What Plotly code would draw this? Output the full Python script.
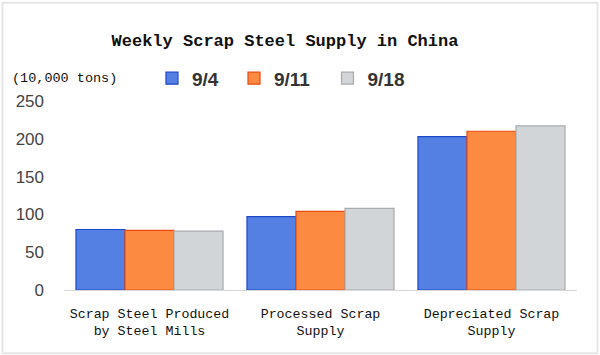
import plotly.graph_objects as go

categories = ["Scrap Steel Produced<br>by Steel Mills", "Processed Scrap<br>Supply", "Depreciated Scrap<br>Supply"]
series_names = ["9/4", "9/11", "9/18"]
values_94 = [80, 97, 203]
values_911 = [79, 104, 210]
values_918 = [78, 108, 217]
tick_vals = [0, 50, 100, 150, 200, 250]

fills = ["#5580e3", "#fc8a40", "#d2d5d8"]
lines = ["#1d48c8", "#ea4a12", "#a9abad"]
legend_ids = ["legend", "legend2", "legend3"]
legend_x = [0.1715, 0.3314, 0.5136]

fig = go.Figure()
for name, vals, fc, lc, lg in zip(series_names, [values_94, values_911, values_918], fills, lines, legend_ids):
    fig.add_trace(go.Bar(x=categories, y=vals, name=name, legend=lg,
                         marker=dict(color=fc, line=dict(color=lc, width=1.2))))

mono = "Liberation Mono, DejaVu Sans Mono, monospace"
legend_font = dict(family="Liberation Sans, Arial, sans-serif", size=19, color="#333", weight="bold")
legend_style = {}
for lg, lx in zip(legend_ids, legend_x):
    legend_style[lg] = dict(orientation="h", x=lx, y=1.12, xanchor="left", yanchor="middle",
                            font=legend_font, itemwidth=30, bgcolor="rgba(0,0,0,0)")

fig.update_layout(
    width=600, height=355,
    paper_bgcolor="white", plot_bgcolor="white",
    margin=dict(l=64, r=23, t=101, b=65, autoexpand=False),
    barmode="group", bargap=0.14, bargroupgap=0,
    title=dict(text="<b>Weekly Scrap Steel Supply in China</b>", x=0.475, xanchor="center",
               y=0.887, yanchor="middle", font=dict(family=mono, size=17, color="#111")),
    showlegend=True,
    xaxis=dict(showline=True, linecolor="#d8d8d8", linewidth=1, ticks="",
               tickfont=dict(family=mono, size=13.3, color="#111"), showgrid=False,
               ticklabelstandoff=11),
    yaxis=dict(range=[0, 250], tickvals=tick_vals, showgrid=False, zeroline=False,
               showline=False, ticks="", ticklabelstandoff=19,
               tickfont=dict(family="Liberation Sans, Arial, sans-serif", size=17, color="#444")),
    annotations=[dict(text="(10,000 tons)", xref="paper", yref="paper", x=-0.105, y=1.12,
                      xanchor="left", yanchor="middle", showarrow=False,
                      font=dict(family=mono, size=13.5, color="#111"))],
    shapes=[dict(type="rect", xref="paper", yref="paper", x0=-0.12, x1=1.04, y0=-0.335, y1=1.52,
                 line=dict(color="#e6e6e6", width=2), layer="below")],
    **legend_style,
)
fig.write_html("out.html", config={"displayModeBar": False},
               post_script="document.body.style.margin='0';")
